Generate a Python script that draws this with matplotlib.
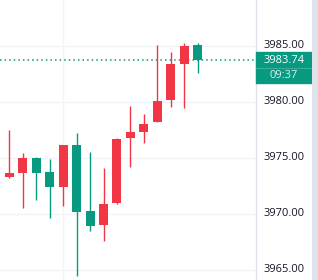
import numpy as np
import matplotlib.pyplot as plt

# candle data
opens  = [3973.30, 3973.70, 3975.00, 3973.75, 3972.44, 3976.16, 3970.27, 3969.00,
          3971.00, 3976.80, 3977.35, 3978.24, 3980.20, 3983.42, 3985.10]
highs  = [3977.50, 3975.45, 3975.12, 3974.90, 3976.16, 3977.23, 3975.54, 3974.10,
          3976.80, 3979.64, 3978.93, 3985.10, 3984.46, 3985.24, 3985.24]
lows   = [3973.20, 3970.56, 3971.25, 3969.67, 3970.70, 3964.50, 3968.50, 3967.60,
          3970.90, 3974.20, 3976.37, 3978.24, 3979.58, 3979.49, 3982.62]
closes = [3973.66, 3975.00, 3973.70, 3972.44, 3976.16, 3970.20, 3968.96, 3970.90,
          3976.70, 3977.30, 3978.04, 3980.10, 3983.40, 3985.00, 3983.74]

price_ticks = [3965.0, 3970.0, 3975.0, 3980.0, 3985.0]
last_price = 3983.74
countdown = "09:37"

UP = '#f23645'
DOWN = '#089981'
GRID = '#f0f3fa'
BORDER = '#e0e3eb'

W, H = 318, 280
fig = plt.figure(figsize=(W / 100, H / 100), dpi=100)
fig.patch.set_facecolor('white')

ylo, yhi = 3964.107, 3989.107
plot_w = 255

ax = fig.add_axes([0, 0, plot_w / W, 1])
x = np.arange(len(opens))
step = 13.43
ax.set_xlim(-9.5 / step, (plot_w - 9.5) / step)
ax.set_ylim(ylo, yhi)

for p in price_ticks:
    ax.axhline(p, color=GRID, lw=1, zorder=0)
ax.axvline(4, color=GRID, lw=1, zorder=0)

o = np.array(opens)
c = np.array(closes)
cols = [UP if cc >= oo else DOWN for oo, cc in zip(o, c)]
ax.vlines(x, lows, highs, colors=cols, lw=1.0, zorder=2)
ax.bar(x, np.maximum(np.abs(c - o), 0.08), bottom=np.minimum(o, c), width=0.67,
       color=cols, zorder=3)

ax.axhline(last_price, color=DOWN, lw=1.1, ls=(0, (1, 2)), zorder=1)
ax.axis('off')

# price scale
pax = fig.add_axes([plot_w / W, 0, 57 / W, 1])
pax.set_xlim(0, 57)
pax.set_ylim(ylo, yhi)
pax.axis('off')
pax.axvline(0.5, color=BORDER, lw=1)
for p in price_ticks:
    pax.text(29, p, f"{p:.2f}", ha='center', va='center', fontsize=8,
             family='Open Sans', color='#131722')

# last price badge
px = 11.2
top = last_price + 8.5 / px
bot = last_price - 22.5 / px
pax.fill_between([1, 57], bot, top, color=DOWN, zorder=3)
pax.plot([1, 57], [last_price - 7.5 / px] * 2, color='#3aae98', lw=0.8, zorder=4)
pax.text(29, last_price, f"{last_price:.2f}", ha='center', va='center', fontsize=8,
         family='Open Sans', color='white', zorder=5)
pax.text(29, last_price - 15 / px, countdown, ha='center', va='center', fontsize=8,
         family='Open Sans', color='white', alpha=0.85, zorder=5)

# right edge strip
fig.add_artist(plt.Rectangle((312 / W, 0), 6 / W, 1, transform=fig.transFigure,
                             color='#e1e3ea', lw=0))

fig.savefig('out.png', dpi=100)
